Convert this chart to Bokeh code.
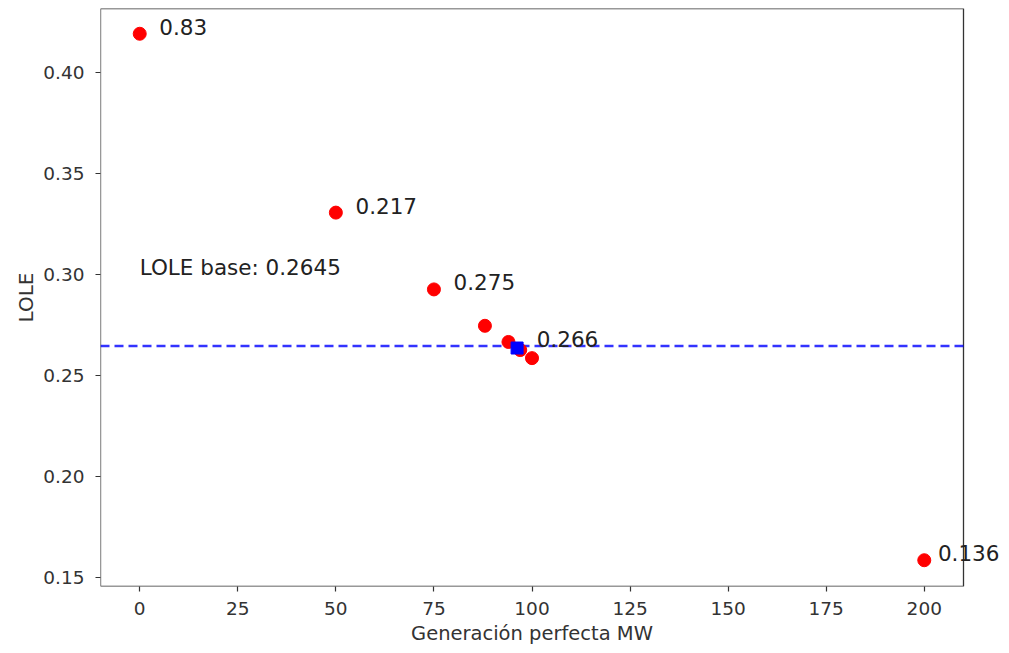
from bokeh.plotting import figure
from bokeh.models import Range1d, FixedTicker, Label, CustomJSTickFormatter, BoxAnnotation
from bokeh.embed import file_html
from bokeh.resources import INLINE

gen_mw = [0, 50, 75, 88, 94, 97, 100, 200]
lole = [0.419, 0.3305, 0.2925, 0.2745, 0.2665, 0.2625, 0.2585, 0.1585]

label_x = [0, 50, 75, 96.2, 200]
label_y = [0.419, 0.3305, 0.2925, 0.2645, 0.1585]
label_txt = ["0.83", "0.217", "0.275", "0.266", "0.136"]

sq_x = [96.2]
sq_y = [0.2635]

base_lole = 0.2645
base_text = "LOLE base: 0.2645"

x_ticks = [0, 25, 50, 75, 100, 125, 150, 175, 200]
y_ticks = [0.15, 0.20, 0.25, 0.30, 0.35, 0.40]

# axes limits (visible box)
X_MIN, X_MAX = -10, 210
Y_MIN, Y_MAX = 0.1455, 0.4315

FONT = "DejaVu Sans"

BOX_W = 863       # pixel width of the visible axes box
FRAME_W = 901     # frame extends to the canvas edge so labels are not clipped
x_end = X_MIN + (X_MAX - X_MIN) * FRAME_W / BOX_W

p = figure(width=1001, height=645, output_backend="svg", toolbar_location=None,
           x_range=Range1d(X_MIN, x_end), y_range=Range1d(Y_MIN, Y_MAX),
           min_border_left=100, min_border_right=0, min_border_top=8, min_border_bottom=59)
p.frame_width = FRAME_W
p.frame_height = 578

p.xgrid.visible = False
p.ygrid.visible = False
p.outline_line_color = None

p.add_layout(BoxAnnotation(left=X_MIN, right=X_MAX, bottom=Y_MIN, top=Y_MAX,
                           fill_color=None, fill_alpha=0, line_color="#333333",
                           line_alpha=1.0, line_width=1.3, level="underlay"))

p.xaxis.ticker = FixedTicker(ticks=x_ticks)
p.yaxis.ticker = FixedTicker(ticks=y_ticks)
p.yaxis.formatter = CustomJSTickFormatter(code="return tick.toFixed(2);")

for ax in (p.xaxis, p.yaxis):
    ax.axis_line_color = None
    ax.major_tick_line_color = "#333333"
    ax.major_tick_line_width = 1.2
    ax.major_tick_out = 5
    ax.major_tick_in = 0
    ax.minor_tick_line_color = None
    ax.major_label_text_font = FONT
    ax.major_label_text_font_size = "18.5px"
    ax.major_label_text_color = "#333333"
    ax.axis_label_text_font = FONT
    ax.axis_label_text_font_size = "20px"
    ax.axis_label_text_font_style = "normal"
    ax.axis_label_text_color = "#333333"

p.yaxis.axis_label = "LOLE"
p.xaxis.major_label_standoff = 10
p.yaxis.major_label_standoff = 11
p.yaxis.axis_label_standoff = 2

# x axis label centred under the visible box, not the extended frame
p.add_layout(Label(x=BOX_W / 2, y=-4, x_units="screen", y_units="screen",
                   text="Generación perfecta MW", text_font=FONT, text_font_size="19.5px",
                   text_color="#333333", text_align="center", text_baseline="bottom"), "below")

p.segment(x0=[X_MIN], x1=[X_MAX], y0=[base_lole], y1=[base_lole], line_color="blue",
          line_dash="9 5", line_width=2.6, line_alpha=0.8)

p.scatter(gen_mw, lole, size=13, color="red", marker="circle")
p.scatter(sq_x, sq_y, size=12, color="blue", marker="square")

for lx, ly, lt in zip(label_x, label_y, label_txt):
    p.add_layout(Label(x=lx + 5, y=ly, y_offset=7, x_offset=(-6 if lx > 150 else 0),
                       text=lt, text_font=FONT,
                       text_font_size="21.5px", text_color="#222222",
                       text_baseline="alphabetic", text_align="left"))

p.add_layout(Label(x=0, y=0.3025, y_offset=2, text=base_text, text_font=FONT,
                   text_font_size="21.5px", text_color="#222222",
                   text_baseline="alphabetic", text_align="left"))

open("out.html", "w").write(file_html(p, INLINE))
